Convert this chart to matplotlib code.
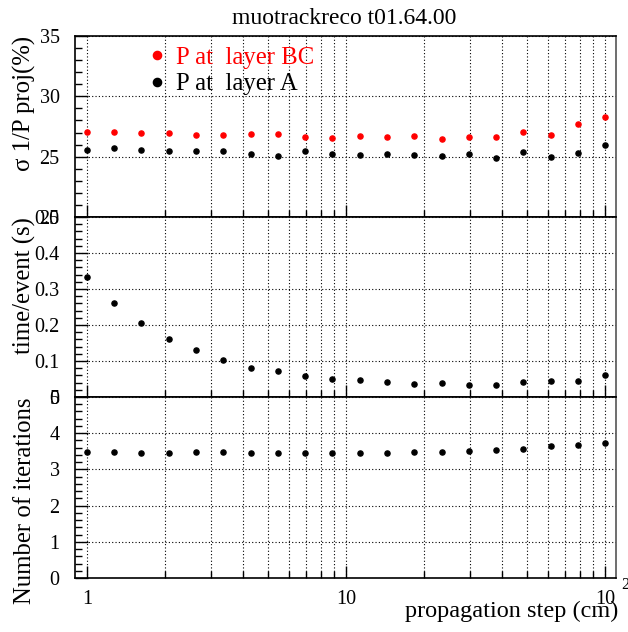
#!/usr/bin/env python3
"""Resolution, timing and iteration count versus propagation step (muotrackreco)."""

import matplotlib
matplotlib.use('Agg')
import matplotlib.pyplot as plt
from matplotlib.ticker import FixedLocator, FixedFormatter, MultipleLocator, NullFormatter

plt.rcParams['font.family'] = ['Liberation Serif', 'DejaVu Serif']

step_cm = [1.0, 1.27, 1.62, 2.07, 2.64, 3.36, 4.28, 5.46, 6.95, 8.86,
           11.3, 14.4, 18.3, 23.4, 29.8, 37.9, 48.3, 61.6, 78.5, 100.0]
res_bc = [27.07, 27.07, 26.99, 26.94, 26.82, 26.82, 26.88, 26.86, 26.66, 26.58,
          26.69, 26.63, 26.69, 26.47, 26.63, 26.61, 27.07, 26.77, 27.69, 28.32]
res_a = [25.56, 25.70, 25.56, 25.50, 25.45, 25.47, 25.22, 25.03, 25.47, 25.20,
         25.14, 25.20, 25.12, 25.08, 25.22, 24.92, 25.36, 25.00, 25.31, 25.95]
time_per_event = [0.334, 0.261, 0.206, 0.162, 0.130, 0.102, 0.081, 0.072, 0.059, 0.049,
                  0.047, 0.041, 0.035, 0.039, 0.034, 0.032, 0.041, 0.044, 0.044, 0.062]
n_iterations = [3.49, 3.47, 3.45, 3.46, 3.47, 3.47, 3.45, 3.44, 3.44, 3.46,
                3.44, 3.45, 3.47, 3.49, 3.51, 3.54, 3.56, 3.65, 3.67, 3.73]

W, H = 628, 632
fig = plt.figure(figsize=(W / 100, H / 100), dpi=100)

left, right = 75, 616
panels = [(36, 217), (217, 397), (397, 578)]
axes = []
for top, bottom in panels:
    ax = fig.add_axes([left / W, (H - bottom) / H, (right - left) / W, (bottom - top) / H])
    axes.append(ax)

minor_x = [m * 10 ** d for d in range(0, 2) for m in range(2, 10)]
dots = (0, (1, 2))
for ax in axes:
    ax.set_xscale('log')
    ax.set_xlim(0.9, 110)
    ax.xaxis.set_major_locator(FixedLocator([1, 10, 100]))
    ax.xaxis.set_minor_locator(FixedLocator(minor_x))
    ax.xaxis.set_minor_formatter(NullFormatter())
    ax.grid(True, which='major', axis='both', color='black', linestyle=dots, linewidth=0.8)
    ax.grid(True, which='minor', axis='x', color='black', linestyle=dots, linewidth=0.8)
    ax.tick_params(which='both', direction='in', top=False, right=False)
    ax.tick_params(axis='y', labelsize=14.5, pad=11)
    ax.tick_params(which='major', length=9, width=1)
    ax.tick_params(which='minor', length=5, width=1)
    for sp in ax.spines.values():
        sp.set_linewidth(1.2)
    ax.spines['right'].set_color('#555555')
    ax.set_axisbelow(True)

ax1, ax2, ax3 = axes
msize = 3.7

# top: resolution
ax1.plot(step_cm, res_bc, 'o', color='#ff0000', markersize=msize, label='P at  layer BC')
ax1.plot(step_cm, res_a, 'o', color='black', markersize=msize, label='P at  layer A')
ax1.set_ylim(20, 35)
ax1.yaxis.set_major_locator(FixedLocator([20, 25, 30, 35]))
ax1.yaxis.set_minor_locator(MultipleLocator(1))
ax1.set_ylabel('σ 1/P proj(%)', fontsize=17.8, loc='top')
ax1.xaxis.set_major_formatter(NullFormatter())
leg = ax1.legend(loc='upper left', bbox_to_anchor=(0.088, 1.065), frameon=False, fontsize=17.8,
                 handletextpad=0.25, labelspacing=0.17, markerscale=1.6, handlelength=1.0)
leg.get_texts()[0].set_color('#ff0000')

# middle: timing
ax2.plot(step_cm, time_per_event, 'o', color='black', markersize=msize)
ax2.set_ylim(0, 0.5)
ax2.yaxis.set_major_locator(FixedLocator([0, 0.1, 0.2, 0.3, 0.4, 0.5]))
ax2.yaxis.set_major_formatter(FixedFormatter(['0', '0.1', '0.2', '0.3', '0.4', '0.5']))
ax2.yaxis.set_minor_locator(MultipleLocator(0.02))
ax2.set_ylabel('time/event (s)', fontsize=17.8, loc='top')
ax2.xaxis.set_major_formatter(NullFormatter())

# bottom: iterations
ax3.plot(step_cm, n_iterations, 'o', color='black', markersize=msize)
ax3.set_ylim(0, 5)
ax3.yaxis.set_major_locator(FixedLocator([0, 1, 2, 3, 4, 5]))
ax3.yaxis.set_minor_locator(MultipleLocator(0.2))
ax3.set_ylabel('Number of iterations', fontsize=17.8, loc='top')
ax3.xaxis.set_major_formatter(FixedFormatter(['1', '10', '10']))
ax3.tick_params(axis='x', which='major', labelsize=14.5, pad=9)
ax3.set_xlabel('propagation step (cm)', fontsize=17.5, loc='right')
ax3.xaxis.set_label_coords(1.004, -0.124)
fig.text(625 / W, 1 - 585 / H, '2', ha='center', va='center', fontsize=12)

for ax in axes:
    ax.yaxis.set_label_coords(-0.072, 1.0)

fig.text(344 / W, 1 - 18 / H, 'muotrackreco t01.64.00', ha='center', va='center', fontsize=17)

fig.savefig('out.png', dpi=100)
